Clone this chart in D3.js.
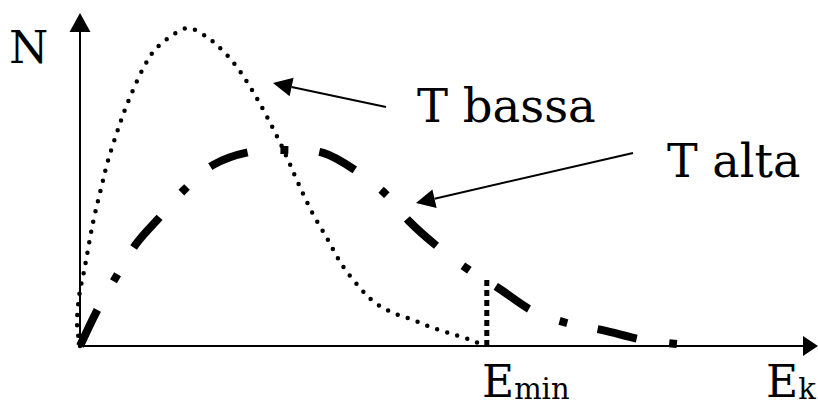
<!DOCTYPE html>
<html>
<head>
<meta charset="utf-8">
<script src="https://cdn.jsdelivr.net/npm/d3@7"></script>
<style>
  body { margin: 0; background: #fff; }
  text { font-family: "DejaVu Serif", serif; fill: #000; }
</style>
</head>
<body>
<script>
// Energy distribution sketch: N vs E_k at low and high temperature

// 1. data (arbitrary units: E 0..100, N 0..100)
var bassaE = [0, -0.4, -0.1, 0.6, 1.8, 3.1, 3.8, 5.1, 6.5, 8.8, 10.4, 12.5, 15.0, 17.6, 19.7, 21.8,
              24.7, 27.4, 28.9, 30.3, 32.2, 34.3, 36.4, 38.9, 41.0, 43.5, 46.3, 49.0, 51.7, 54.2, 56.0];
var bassaN = [0, 6.5, 15.7, 23.5, 38.0, 50.3, 56.5, 65.7, 74.4, 85.8, 91.4, 95.4, 98.1, 95.4, 91.4, 86.1,
              75.9, 64.5, 57.4, 50.3, 41.4, 33.3, 25.0, 17.9, 13.3, 10.2, 8.0, 5.6, 3.7, 1.9, 0.3];

var altaE = [0, 2.4, 5.0, 7.9, 11.1, 14.6, 18.5, 23.6, 28.8, 33.8, 38.6, 42.6, 45.8, 49.7,
             54.0, 58.1, 62.9, 67.6, 72.6, 78.2, 82.9];
var altaN = [0, 11.1, 21.3, 31.8, 39.8, 48.5, 55.9, 59.9, 60.5, 59.6, 53.7, 46.6, 38.3, 30.6,
             23.5, 17.9, 10.8, 7.1, 4.9, 1.9, 0.6];

var eMin = 56.5, eMinTop = 21;
var xLabel = "E", xSub = "k", yLabel = "N";
var minLabel = "E", minSub = "min";
var seriesLabels = ["T bassa", "T alta"];

// 2. layout
var outWidth = 818, outHeight = 408;
var xScale = d3.scaleLinear().domain([0, 100]).range([80, 800]);
var yScale = d3.scaleLinear().domain([0, 100]).range([346, 22]);

var svg = d3.select("body").append("svg")
    .attr("width", outWidth)
    .attr("height", outHeight);

var line = d3.line()
    .x(function(d) { return xScale(d[0]); })
    .y(function(d) { return yScale(d[1]); })
    .curve(d3.curveCatmullRom.alpha(0.5));

// 3. axes with arrow heads
var x0 = xScale(0), y0 = yScale(0);
svg.append("line")
    .attr("x1", x0).attr("y1", y0)
    .attr("x2", 805).attr("y2", y0)
    .attr("stroke", "#000").attr("stroke-width", 2);
svg.append("path")
    .attr("d", "M818," + y0 + "L803," + (y0 - 10) + "L803," + (y0 + 10) + "Z")
    .attr("fill", "#000");

svg.append("line")
    .attr("x1", x0).attr("y1", y0)
    .attr("x2", x0).attr("y2", 30)
    .attr("stroke", "#000").attr("stroke-width", 2);
svg.append("path")
    .attr("d", "M" + x0 + ",13L" + (x0 - 10.5) + ",32L" + (x0 + 10.5) + ",32Z")
    .attr("fill", "#000");

// 4. curves
svg.append("path")
    .datum(d3.zip(bassaE, bassaN))
    .attr("d", line)
    .attr("fill", "none")
    .attr("stroke", "#000")
    .attr("stroke-width", 4.5)
    .attr("stroke-linecap", "round")
    .attr("stroke-dasharray", "0,10.5");

svg.append("path")
    .datum(d3.zip(altaE, altaN))
    .attr("d", line)
    .attr("fill", "none")
    .attr("stroke", "#000")
    .attr("stroke-width", 8)
    .attr("stroke-linecap", "butt")
    .attr("stroke-dasharray", "40,33,8,31");

// E_min marker
svg.append("line")
    .attr("x1", xScale(eMin)).attr("y1", y0)
    .attr("x2", xScale(eMin)).attr("y2", yScale(eMinTop))
    .attr("stroke", "#000")
    .attr("stroke-width", 5)
    .attr("stroke-dasharray", "6,4");

// 5. labels
svg.append("text")
    .attr("x", 9).attr("y", 63)
    .style("font-size", "45px")
    .text(yLabel);

var ek = svg.append("text")
    .attr("x", 766).attr("y", 397)
    .style("font-size", "44px")
    .text(xLabel);
ek.append("tspan")
    .attr("dy", 2)
    .style("font-size", "29px")
    .text(xSub);

var em = svg.append("text")
    .attr("x", 482).attr("y", 397)
    .style("font-size", "44px")
    .text(minLabel);
em.append("tspan")
    .attr("dy", 2)
    .style("font-size", "29px")
    .text(minSub);

svg.append("text")
    .attr("x", 417).attr("y", 122)
    .style("font-size", "46.5px")
    .text(seriesLabels[0]);
svg.append("text")
    .attr("x", 667).attr("y", 177)
    .style("font-size", "46px")
    .text(seriesLabels[1]);

// arrows from labels to curves
function arrow(x1, y1, x2, y2) {
  var a = Math.atan2(y2 - y1, x2 - x1), len = 19, w = 9.5;
  var bx = x2 - len * Math.cos(a), by = y2 - len * Math.sin(a);
  svg.append("line")
      .attr("x1", x1).attr("y1", y1).attr("x2", bx).attr("y2", by)
      .attr("stroke", "#000").attr("stroke-width", 2);
  svg.append("path")
      .attr("d", "M" + x2 + "," + y2 +
                 "L" + (bx + w * Math.sin(a)) + "," + (by - w * Math.cos(a)) +
                 "L" + (bx - w * Math.sin(a)) + "," + (by + w * Math.cos(a)) + "Z")
      .attr("fill", "#000");
}
arrow(386, 107, 273, 83);
arrow(633, 153, 416, 203);
</script>
</body>
</html>
